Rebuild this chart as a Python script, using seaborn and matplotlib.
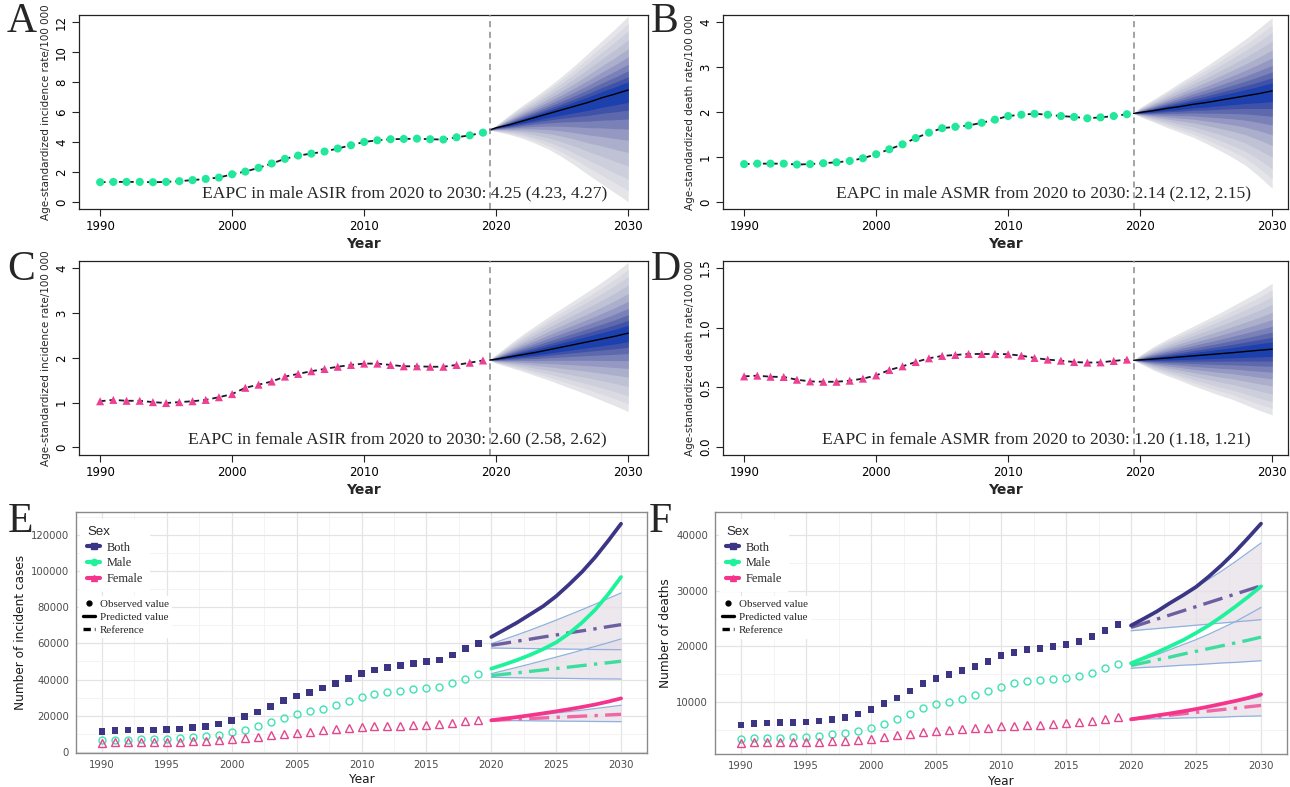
import numpy as np
import pandas as pd
import matplotlib
matplotlib.use("Agg")
import matplotlib.pyplot as plt
from matplotlib.lines import Line2D
import seaborn as sns

# ---------------- data ----------------
obs_years = list(range(1990, 2020))
proj_years = [2019.5] + list(range(2020, 2031))
pred_years = list(range(2020, 2031))

# Panel A: male ASIR
asir_male = [1.31, 1.33, 1.33, 1.33, 1.31, 1.33, 1.38, 1.45, 1.53, 1.62, 1.84, 2.02, 2.27, 2.56, 2.87,
             3.09, 3.22, 3.36, 3.56, 3.78, 4.00, 4.11, 4.18, 4.20, 4.22, 4.18, 4.16, 4.31, 4.44, 4.62]
asir_male_mean = [4.80, 4.95, 5.15, 5.40, 5.65, 5.90, 6.15, 6.40, 6.65, 6.95, 7.20, 7.47]
asir_male_hi = [4.80, 5.10, 5.80, 6.45, 7.05, 7.70, 8.40, 9.15, 9.95, 10.75, 11.55, 12.40]
asir_male_lo = [4.80, 4.70, 4.50, 4.24, 3.90, 3.50, 3.00, 2.42, 1.80, 1.20, 0.60, 0.02]

# Panel B: male ASMR
asmr_male = [0.84, 0.85, 0.85, 0.85, 0.83, 0.84, 0.86, 0.88, 0.91, 0.97, 1.06, 1.17, 1.28, 1.42, 1.54,
             1.64, 1.67, 1.70, 1.76, 1.83, 1.91, 1.94, 1.96, 1.94, 1.91, 1.89, 1.86, 1.88, 1.91, 1.95]
asmr_male_mean = [1.97, 1.99, 2.03, 2.08, 2.12, 2.17, 2.21, 2.26, 2.31, 2.36, 2.41, 2.47]
asmr_male_hi = [1.97, 2.10, 2.28, 2.46, 2.65, 2.83, 3.02, 3.22, 3.42, 3.63, 3.86, 4.10]
asmr_male_lo = [1.97, 1.90, 1.78, 1.66, 1.55, 1.44, 1.30, 1.15, 0.99, 0.81, 0.57, 0.30]

# Panel C: female ASIR
asir_female = [1.03, 1.06, 1.04, 1.04, 1.01, 0.99, 1.01, 1.03, 1.06, 1.12, 1.19, 1.33, 1.40, 1.47, 1.58,
               1.64, 1.70, 1.75, 1.80, 1.84, 1.87, 1.87, 1.84, 1.81, 1.81, 1.80, 1.80, 1.84, 1.89, 1.94]
asir_female_mean = [1.95, 1.97, 2.02, 2.07, 2.12, 2.18, 2.24, 2.30, 2.36, 2.42, 2.48, 2.55]
asir_female_hi = [1.95, 2.07, 2.30, 2.52, 2.72, 2.92, 3.11, 3.30, 3.49, 3.69, 3.90, 4.13]
asir_female_lo = [1.95, 1.88, 1.79, 1.70, 1.60, 1.50, 1.39, 1.28, 1.17, 1.05, 0.93, 0.80]

# Panel D: female ASMR
asmr_female = [0.592, 0.598, 0.589, 0.587, 0.564, 0.550, 0.547, 0.547, 0.556, 0.573, 0.600, 0.645, 0.676,
               0.712, 0.743, 0.763, 0.771, 0.779, 0.779, 0.779, 0.777, 0.765, 0.746, 0.732, 0.723, 0.712,
               0.707, 0.709, 0.721, 0.732]
asmr_female_mean = [0.727, 0.730, 0.737, 0.745, 0.754, 0.763, 0.772, 0.781, 0.790, 0.800, 0.810, 0.819]
asmr_female_hi = [0.727, 0.770, 0.840, 0.900, 0.955, 1.010, 1.065, 1.120, 1.180, 1.240, 1.300, 1.370]
asmr_female_lo = [0.727, 0.700, 0.645, 0.600, 0.560, 0.515, 0.475, 0.435, 0.400, 0.355, 0.310, 0.270]

# Panel E: incident cases
inc_both = [11411, 11963, 12147, 12147, 12147, 12331, 12700, 13436, 14172, 15460, 17300, 19693, 22086, 25031,
            28344, 30920, 32945, 35337, 37730, 40491, 43436, 45276, 46749, 47853, 48957, 49877, 50798, 53558,
            57055, 60000]
inc_male = [6442, 6810, 6810, 6994, 6994, 7178, 7546, 8098, 8650, 9571, 10859, 12331, 14172, 16380, 18957,
            20798, 22454, 23927, 25767, 27975, 30368, 32025, 33129, 33865, 34969, 35338, 36074, 38098, 40491,
            42884]
inc_female = [5153, 5521, 5521, 5706, 5521, 5521, 5706, 5890, 6258, 6810, 7178, 7914, 8466, 9202, 9939, 10675,
              11227, 11963, 12515, 13068, 13620, 14172, 14172, 14356, 14724, 14908, 15276, 16196, 17117, 17853]
inc_both_pred = [63500, 67500, 71500, 76000, 80500, 86000, 92500, 99500, 107500, 116500, 126000]
inc_both_ref = [58900, 60000, 61200, 62300, 63500, 64600, 65800, 66900, 68000, 69200, 70300]
inc_both_hi = [59800, 62200, 64700, 67300, 70000, 72800, 75700, 78600, 81600, 84700, 87800]
inc_both_lo = [57400, 57300, 57200, 57100, 57000, 56900, 56800, 56700, 56600, 56550, 56500]
inc_male_pred = [46000, 48300, 50800, 53600, 56800, 60500, 65500, 71500, 78500, 87000, 96600]
inc_male_ref = [42150, 42950, 43700, 44500, 45300, 46100, 46900, 47700, 48500, 49300, 50100]
inc_male_hi = [43250, 45000, 46800, 48600, 50500, 52400, 54300, 56300, 58300, 60300, 62400]
inc_male_lo = [41200, 41100, 41000, 40900, 40800, 40700, 40600, 40500, 40400, 40350, 40300]
inc_female_pred = [17500, 18400, 19300, 20300, 21350, 22450, 23600, 24850, 26200, 27800, 29600]
inc_female_ref = [17500, 17800, 18150, 18500, 18800, 19150, 19450, 19800, 20100, 20450, 20800]
inc_female_hi = [17500, 18300, 19100, 19900, 20700, 21500, 22300, 23100, 24000, 24900, 25800]
inc_female_lo = [17500, 17400, 17300, 17250, 17150, 17100, 17000, 16950, 16850, 16800, 16750]

# Panel F: deaths
dth_both = [5833, 6073, 6193, 6254, 6254, 6374, 6554, 6795, 7216, 7817, 8599, 9681, 10703, 11966, 13289,
            14251, 14912, 15574, 16415, 17317, 18280, 18941, 19422, 19663, 20023, 20324, 20805, 21707, 22789,
            23992]
dth_male = [3307, 3427, 3488, 3548, 3608, 3728, 3908, 4149, 4389, 4810, 5352, 6073, 6915, 7817, 8899, 9621,
            10042, 10583, 11244, 11966, 12748, 13349, 13770, 13950, 14131, 14311, 14612, 15213, 16055, 16897]
dth_female = [2646, 2766, 2766, 2766, 2766, 2766, 2826, 2886, 3007, 3127, 3367, 3668, 3969, 4269, 4570, 4810,
              4991, 5111, 5291, 5352, 5592, 5712, 5772, 5833, 5953, 6133, 6314, 6554, 6915, 7216]
dth_both_pred = [23750, 25000, 26300, 27800, 29200, 30700, 32600, 34700, 37000, 39500, 42100]
dth_both_ref = [23400, 24150, 24900, 25650, 26400, 27150, 27900, 28650, 29400, 30150, 30900]
dth_both_hi = [23800, 25100, 26400, 27800, 29200, 30600, 32100, 33600, 35200, 36900, 38600]
dth_both_lo = [22800, 23000, 23200, 23400, 23600, 23800, 24000, 24200, 24400, 24600, 24800]
dth_male_pred = [16950, 17900, 18900, 20000, 21100, 22400, 23800, 25400, 27100, 28900, 30800]
dth_male_ref = [16550, 17050, 17550, 18050, 18600, 19100, 19600, 20100, 20600, 21100, 21650]
dth_male_hi = [16900, 17700, 18500, 19400, 20300, 21200, 22200, 23300, 24400, 25700, 27000]
dth_male_lo = [16050, 16200, 16300, 16450, 16600, 16700, 16850, 17000, 17100, 17250, 17400]
dth_female_pred = [6850, 7200, 7550, 7900, 8300, 8700, 9150, 9650, 10150, 10700, 11350]
dth_female_ref = [6850, 7100, 7350, 7600, 7850, 8100, 8350, 8600, 8850, 9100, 9350]
dth_female_hi = [6900, 7250, 7600, 7950, 8350, 8750, 9150, 9550, 10000, 10450, 10950]
dth_female_lo = [6850, 6900, 6950, 7000, 7100, 7150, 7200, 7250, 7350, 7400, 7460]

sexes = ["Both", "Male", "Female"]
key_labels = ["Observed value", "Predicted value", "Reference"]

# ---------------- style ----------------
GREEN = "#22e89c"
PINK = "#ef3f92"
C_BOTH, C_MALE, C_FEM = "#3b3586", "#1ef29b", "#f5358b"
R_BOTH, R_MALE, R_FEM = "#6c5f9f", "#3ddd9f", "#ee68a5"
O_BOTH, O_MALE, O_FEM = "#3b3584", "#40e2b4", "#e2468d"
fan_levels = [1.0, 0.9, 0.8, 0.68, 0.56, 0.45, 0.35, 0.26, 0.18, 0.11]
fan_colors = ["#e4e4e9", "#dadbe2", "#cecfdc", "#bfc1d5", "#acafcc", "#9498c2", "#7a81b7",
              "#5e69ad", "#3f52a7", "#1c40ad"]

sns.set_theme(style="ticks")
plt.rcParams["font.family"] = ["Liberation Sans", "DejaVu Sans"]
SERIF = ["Liberation Serif", "DejaVu Serif"]

W, H = 1290, 787
fig = plt.figure(figsize=(W / 100, H / 100), dpi=100)


def box(l, t, r, b):
    return [l / W, 1 - b / H, (r - l) / W, (b - t) / H]


def letter(x, y, s):
    fig.text(x / W, 1 - y / H, s, family=SERIF, fontsize=30, ha="left", va="top")


def base_panel(ax, obs, mean, hi, lo, col, marker, ylim, yticks, yfmt, ylabel, eapc, xlim):
    m, h, l = np.array(mean), np.array(hi), np.array(lo)
    for frac, fc in zip(fan_levels, fan_colors):
        ax.fill_between(proj_years, m + frac * (h - m), m - frac * (m - l), color=fc, lw=0, zorder=1)
    df_pred = pd.DataFrame({"Year": proj_years, "Rate": mean})
    sns.lineplot(data=df_pred, x="Year", y="Rate", ax=ax, color="black", lw=1.0, zorder=3)
    df_obs = pd.DataFrame({"Year": obs_years, "Rate": obs})
    sns.lineplot(data=df_obs, x="Year", y="Rate", ax=ax, color="#1a1a2a", lw=1.3,
                 linestyle=(0, (3, 2.2)), zorder=3)
    sns.scatterplot(data=df_obs, x="Year", y="Rate", ax=ax, color=col, marker=marker, s=34,
                    edgecolor="none", zorder=4)
    ax.axvline(2019.5, color="#8a8a8a", lw=1.1, linestyle=(0, (4, 3)), zorder=5)
    ax.set_xlim(*xlim)
    ax.set_ylim(*ylim)
    ax.set_xticks([1990, 2000, 2010, 2020, 2030])
    ax.set_yticks(yticks)
    ax.set_yticklabels([yfmt.format(v) for v in yticks], rotation=90, va="center")
    for sp in ax.spines.values():
        sp.set_visible(True)
        sp.set_color("#222222")
        sp.set_linewidth(0.9)
    ax.tick_params(direction="out", length=5, width=0.8, labelsize=8.5, colors="#222222",
                   labelcolor="black", pad=3)
    ax.set_xlabel("Year", fontsize=10, fontweight="bold", labelpad=3)
    ax.set_ylabel(ylabel, fontsize=7.5, labelpad=3)
    ax.text(2028.4, 0.08, eapc, transform=ax.get_xaxis_transform(), family=SERIF,
            fontsize=12.6, ha="right", va="center", zorder=6)


with sns.axes_style("ticks"):
    axA = fig.add_axes(box(79, 15, 648, 209))
    axB = fig.add_axes(box(723, 15, 1288, 209))
    axC = fig.add_axes(box(79, 261, 648, 455))
    axD = fig.add_axes(box(723, 261, 1288, 455))

base_panel(axA, asir_male, asir_male_mean, asir_male_hi, asir_male_lo, GREEN, "o",
           (-0.48, 12.48), [0, 2, 4, 6, 8, 10, 12], "{:d}", "Age-standardized incidence rate/100 000",
           "EAPC in male ASIR from 2020 to 2030: 4.25 (4.23, 4.27)", (1988.4, 2031.5))
base_panel(axB, asmr_male, asmr_male_mean, asmr_male_hi, asmr_male_lo, GREEN, "o",
           (-0.16, 4.16), [0, 1, 2, 3, 4], "{:d}", "Age-standardized death rate/100 000",
           "EAPC in male ASMR from 2020 to 2030: 2.14 (2.12, 2.15)", (1988.4, 2031.2))
base_panel(axC, asir_female, asir_female_mean, asir_female_hi, asir_female_lo, PINK, "^",
           (-0.17, 4.16), [0, 1, 2, 3, 4], "{:d}", "Age-standardized incidence rate/100 000",
           "EAPC in female ASIR from 2020 to 2030: 2.60 (2.58, 2.62)", (1988.4, 2031.5))
base_panel(axD, asmr_female, asmr_female_mean, asmr_female_hi, asmr_female_lo, PINK, "^",
           (-0.065, 1.556), [0.0, 0.5, 1.0, 1.5], "{:.1f}", "Age-standardized death rate/100 000",
           "EAPC in female ASMR from 2020 to 2030: 1.20 (1.18, 1.21)", (1988.4, 2031.2))


def count_panel(ax, obs3, pred3, ref3, hi3, lo3, ylim, yticks, yminor, ylabel):
    ax.set_axisbelow(True)
    obs_cols = [O_BOTH, O_MALE, O_FEM]
    pred_cols = [C_BOTH, C_MALE, C_FEM]
    ref_cols = [R_BOTH, R_MALE, R_FEM]
    for hi, lo in zip(hi3, lo3):
        ax.fill_between(pred_years, lo, hi, color="#e6dde7", alpha=0.7, lw=0, zorder=1)
        for band in (hi, lo):
            sns.lineplot(x=pred_years, y=band, ax=ax, color="#8fb1dd", lw=0.9, zorder=2)
    # observed
    sns.scatterplot(x=obs_years, y=obs3[0], ax=ax, marker="s", color=obs_cols[0], s=24,
                    edgecolor="none", zorder=4)
    sns.lineplot(x=obs_years, y=obs3[1], ax=ax, marker="o", linestyle="", color=obs_cols[1],
                 mfc="none", mec=obs_cols[1], mew=1.0, ms=5, zorder=4)
    sns.lineplot(x=obs_years, y=obs3[2], ax=ax, marker="^", linestyle="", color=obs_cols[2],
                 mfc="none", mec=obs_cols[2], mew=1.0, ms=5.5, zorder=4)
    for ref, c in zip(ref3, ref_cols):
        sns.lineplot(x=pred_years, y=ref, ax=ax, color=c, lw=2.4, linestyle=(0, (6, 2.2, 1, 2.2)),
                     zorder=3)
    for pred, c in zip(pred3, pred_cols):
        sns.lineplot(x=pred_years, y=pred, ax=ax, color=c, lw=2.7, zorder=3)
    ax.set_xlim(1988, 2032)
    ax.set_ylim(*ylim)
    ax.set_xticks(list(range(1990, 2031, 5)))
    ax.set_xticks([1992.5 + 5 * i for i in range(8)], minor=True)
    ax.set_yticks(yticks)
    ax.set_yticklabels([str(v) for v in yticks])
    ax.set_yticks(yminor, minor=True)
    ax.grid(which="major", color="#e4e4e4", lw=0.9)
    ax.grid(which="minor", color="#f1f1f1", lw=0.6)
    for sp in ax.spines.values():
        sp.set_visible(True)
        sp.set_color("#8a8a8a")
        sp.set_linewidth(1.0)
    ax.tick_params(which="major", direction="out", length=3, width=0.7, colors="#555555",
                   labelsize=7.3, labelcolor="#4d4d4d", pad=2)
    ax.tick_params(which="minor", length=0)
    ax.set_xlabel("Year", fontsize=8.7, labelpad=1, color="#1a1a1a")
    ax.set_ylabel(ylabel, fontsize=8.7, labelpad=3, color="#1a1a1a")
    # legends
    sex_handles = [Line2D([], [], color=C_BOTH, lw=3, marker="s", ms=4.5),
                   Line2D([], [], color=C_MALE, lw=3, marker="o", ms=4.5),
                   Line2D([], [], color=C_FEM, lw=3, marker="^", ms=4.5)]
    leg1 = ax.legend(sex_handles, sexes, title="Sex", loc="upper left", bbox_to_anchor=(0.0, 0.988),
                     frameon=True, facecolor="white", edgecolor="none", framealpha=1,
                     prop={"family": SERIF, "size": 8.8}, handlelength=1.1, handletextpad=0.5,
                     labelspacing=0.3, borderpad=0.6, borderaxespad=0.3, alignment="left",
                     title_fontproperties={"size": 9.5})
    leg1.get_frame().set_linewidth(0)
    ax.add_artist(leg1)
    key_handles = [Line2D([], [], color="black", marker="o", ls="", ms=3.5),
                   Line2D([], [], color="black", lw=2.4),
                   Line2D([], [], color="black", lw=2.4, ls=(0, (2.2, 1.2)))]
    leg2 = ax.legend(key_handles, key_labels, loc="upper left", bbox_to_anchor=(0.0, 0.665),
                     frameon=True, facecolor="white", edgecolor="none", framealpha=1,
                     prop={"family": SERIF, "size": 7.9}, handlelength=1.1, handletextpad=0.5,
                     labelspacing=0.3, borderpad=0.3, borderaxespad=0.3)
    leg2.get_frame().set_linewidth(0)


with sns.axes_style("whitegrid"):
    axE = fig.add_axes(box(76, 512, 647, 753))
    axF = fig.add_axes(box(715, 512, 1287, 754))

count_panel(axE, [inc_both, inc_male, inc_female],
            [inc_both_pred, inc_male_pred, inc_female_pred],
            [inc_both_ref, inc_male_ref, inc_female_ref],
            [inc_both_hi, inc_male_hi, inc_female_hi],
            [inc_both_lo, inc_male_lo, inc_female_lo],
            (-550, 132500), [0, 20000, 40000, 60000, 80000, 100000, 120000],
            [10000, 30000, 50000, 70000, 90000, 110000, 130000], "Number of incident cases")
count_panel(axF, [dth_both, dth_male, dth_female],
            [dth_both_pred, dth_male_pred, dth_female_pred],
            [dth_both_ref, dth_male_ref, dth_female_ref],
            [dth_both_hi, dth_male_hi, dth_female_hi],
            [dth_both_lo, dth_male_lo, dth_female_lo],
            (600, 44200), [10000, 20000, 30000, 40000],
            [5000, 15000, 25000, 35000], "Number of deaths")
axE.xaxis.set_label_coords(0.5, -0.085)
axF.xaxis.set_label_coords(0.5, -0.085)

letter(7, 3, "A")
letter(651, 3, "B")
letter(7, 250, "C")
letter(651, 250, "D")
letter(8, 502, "E")
letter(649, 502, "F")

fig.savefig("out.png", dpi=100)
